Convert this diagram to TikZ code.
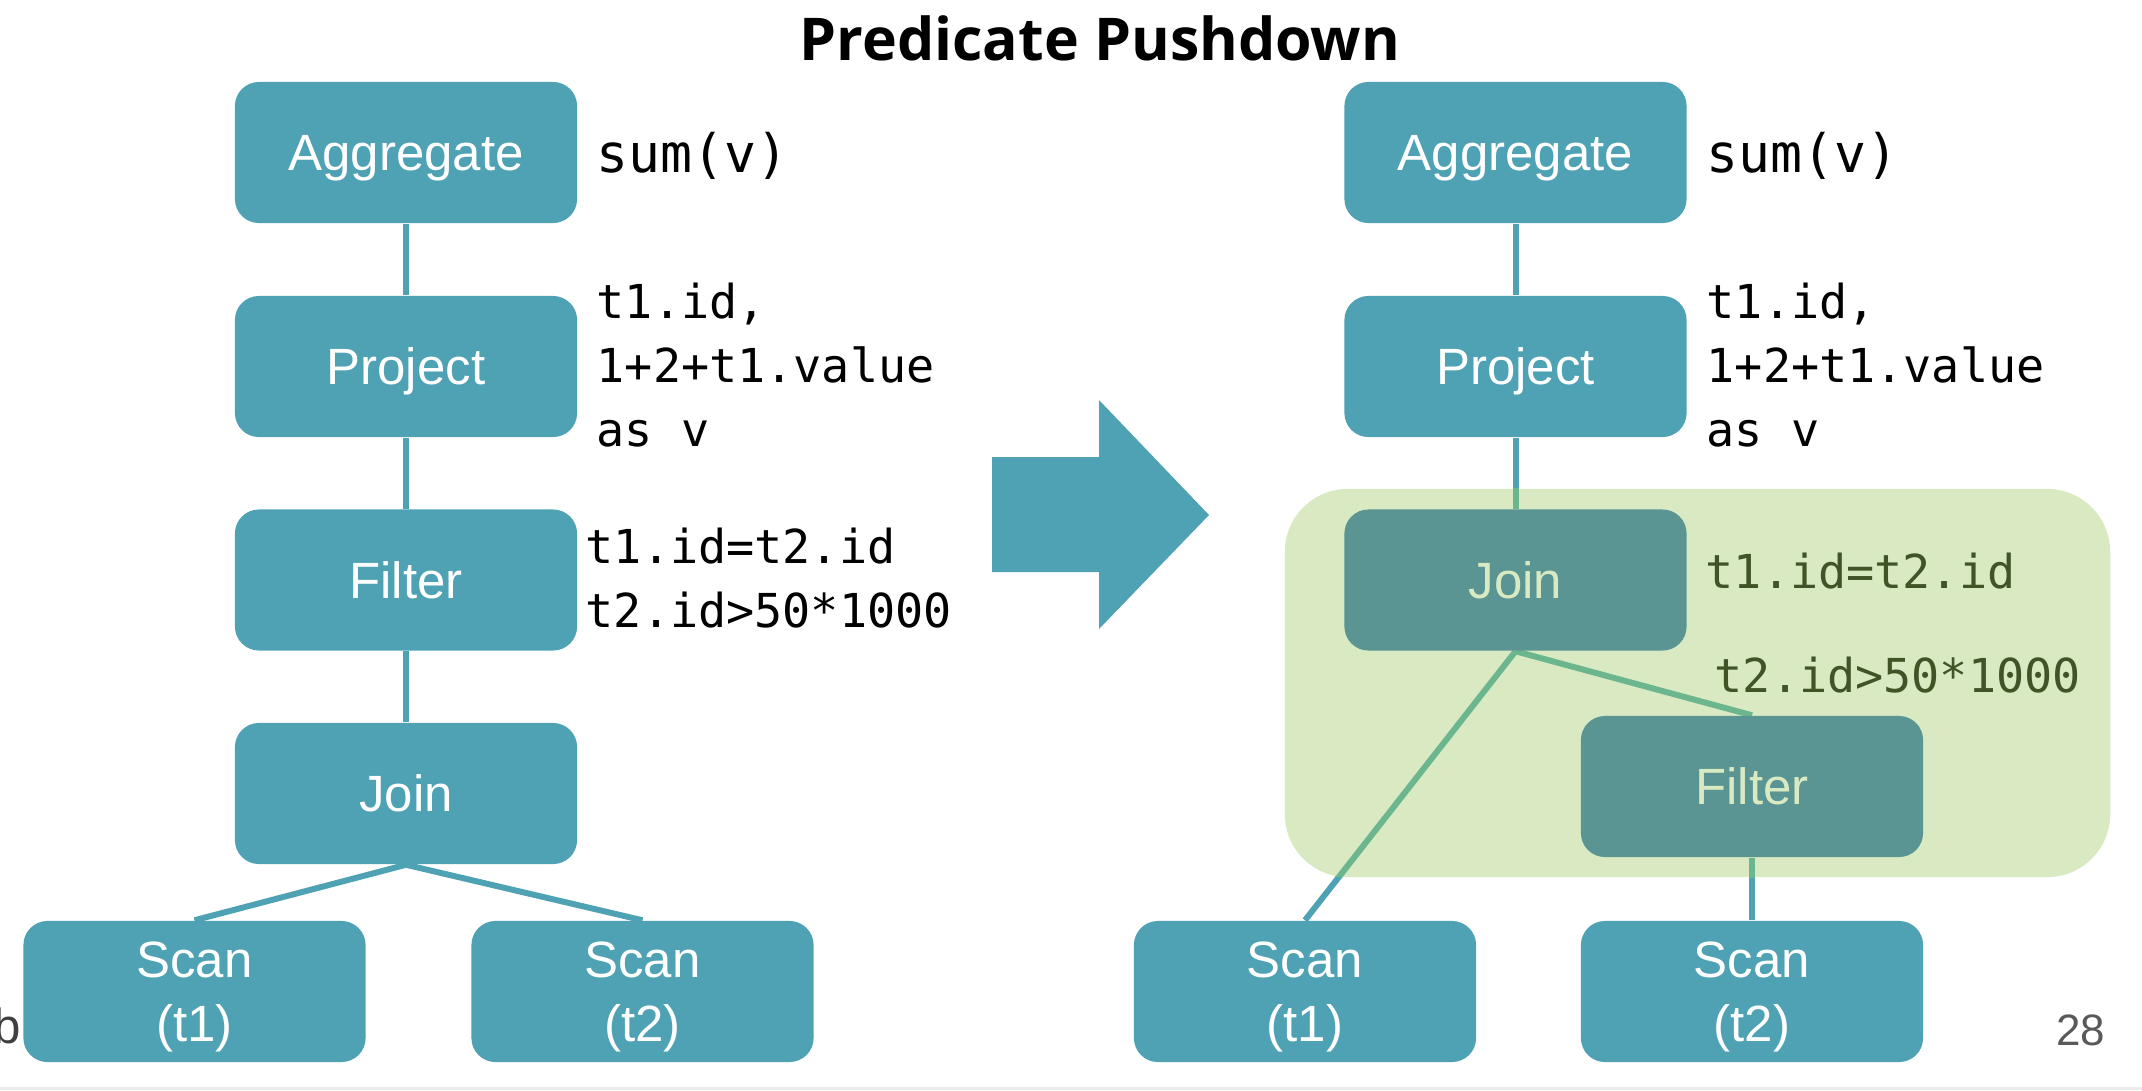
\documentclass[tikz,border=0pt]{standalone}
\usepackage{fontspec}
\usepackage{graphicx}
\setmainfont{Liberation Sans}
\newfontfamily\titlefont{Open Sans}
\newfontfamily\codefont{DejaVu Sans Mono}
\usetikzlibrary{positioning}
\definecolor{teal}{HTML}{4EA2B4}
\definecolor{darkbox}{HTML}{5A9593}
\definecolor{regiong}{HTML}{D9EAC3}
\definecolor{greenline}{HTML}{6CB68F}
\definecolor{annotg}{HTML}{405428}
\definecolor{pagegray}{HTML}{595959}
\definecolor{stripgray}{HTML}{EBEBEB}
\pgfdeclarelayer{bg}
\pgfsetlayers{bg,main}
\tikzset{
  opbox/.style={fill=teal, rounded corners=0.24cm, minimum width=3.42cm, minimum height=1.41cm,
    inner sep=0pt, text=white, align=center, text depth=0pt,
    font=\fontsize{14.5pt}{18.2pt}\selectfont},
  pushbox/.style={opbox, fill=darkbox, text=regiong},
  conn/.style={draw=teal, line width=1.7pt},
  gconn/.style={draw=greenline, line width=1.7pt},
  codetext/.style={anchor=west, inner sep=0pt, align=left,
    font=\codefont\fontsize{13.3pt}{18.2pt}\selectfont},
  bigcode/.style={codetext, font=\codefont\fontsize{15.1pt}{18.2pt}\selectfont},
  regionbox/.style={fill=regiong, rounded corners=0.63cm, minimum width=8.25cm, minimum height=3.88cm, inner sep=0pt},
}
\begin{document}
\begin{tikzpicture}[x=0.01cm, y=-0.01cm]
\useasboundingbox (0,0) rectangle (2142,1090);
\fill[stripgray] (0,1087) rectangle (2142,1090);

% title
\node[anchor=base, inner sep=0pt] (title) at (1100,60)
  {\resizebox{6cm}{!}{\titlefont\bfseries\fontsize{17pt}{20pt}\selectfont Predicate Pushdown}};

% left tree
\node[opbox] (lagg) at (406,152.5) {Aggregate};
\node[opbox] (lproj) at (406,366.5) {Project};
\node[opbox] (lfilt) at (406,580) {Filter};
\node[opbox] (ljoin) at (406,793.5) {Join};
\node[opbox] (lscan1) at (194.5,991.5) {Scan\\(t1)};
\node[opbox] (lscan2) at (642.5,991.5) {Scan\\(t2)};

\node[bigcode] (lsum) at (596,156) {sum(v)};
\node[codetext] (lprojt) at (596,365) {t1.id,\\1+2+t1.value\\as v};
\node[codetext] (lfiltt) at (585,578) {t1.id=t2.id\\t2.id>50*1000};

% arrow
\fill[teal] (992,457) -- (1099,457) -- (1099,400) -- (1209,515) -- (1099,629) -- (1099,572) -- (992,572) -- cycle;

% right tree
\node[opbox] (ragg) at (1515.5,152.5) {Aggregate};
\node[opbox] (rproj) at (1515.5,366.5) {Project};
\node[pushbox] (rjoin) at (1515.5,580) {Join};
\node[pushbox] (rfilt) at (1752,786.5) {Filter};
\node[opbox] (rscan1) at (1305,991.5) {Scan\\(t1)};
\node[opbox] (rscan2) at (1752,991.5) {Scan\\(t2)};

\node[bigcode] (rsum) at (1706,156) {sum(v)};
\node[codetext] (rprojt) at (1706,365) {t1.id,\\1+2+t1.value\\as v};
\node[codetext, text=annotg] (rjoint) at (1705,571) {t1.id=t2.id};
\node[codetext, text=annotg] (rfiltt) at (1714,675) {t2.id>50*1000};

% page number and footer fragment
\node[anchor=base east, inner sep=0pt, text=pagegray, font=\fontsize{12.5pt}{15pt}\selectfont] (pnum) at (2106,1045) {28};
\node[anchor=base east, inner sep=0pt, text=black!75, font=\fontsize{14pt}{17pt}\selectfont] (frag) at (22,1043) {b};

\begin{pgfonlayer}{bg}
  \draw[conn] (lagg) -- (lproj);
  \draw[conn] (lproj) -- (lfilt);
  \draw[conn] (lfilt) -- (ljoin);
  \draw[conn] (ljoin.south) -- (lscan1.north);
  \draw[conn] (ljoin.south) -- (lscan2.north);
  \draw[conn] (ragg) -- (rproj);
  \draw[conn] (rproj) -- (rjoin);
  \draw[conn] (rjoin.south) -- (rscan1.north);
  \draw[conn] (rjoin.south) -- (rfilt.north);
  \draw[conn] (rfilt) -- (rscan2);
  \node[regionbox] (region) at (1697.5,683) {};
  \begin{scope}
    \clip[rounded corners=0.63cm] (region.south west) rectangle (region.north east);
    \draw[gconn] (rproj) -- (rjoin);
    \draw[gconn] (rjoin.south) -- (rscan1.north);
    \draw[gconn] (rjoin.south) -- (rfilt.north);
    \draw[gconn] (rfilt) -- (rscan2);
  \end{scope}
\end{pgfonlayer}
\end{tikzpicture}
\end{document}
